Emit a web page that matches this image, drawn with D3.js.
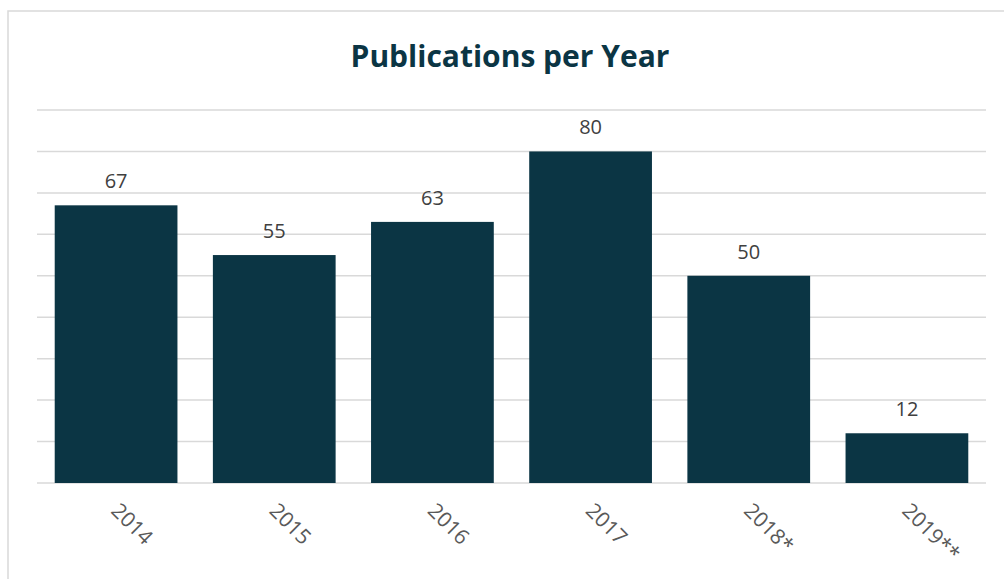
<!DOCTYPE html>
<html><head><meta charset="utf-8">
<script src="https://cdn.jsdelivr.net/npm/d3@7"></script>
<style>body{margin:0;background:#fff}svg{display:block}</style>
</head><body>
<svg id="c" width="1004" height="579"></svg>
<script>
const categories = ["2014","2015","2016","2017","2018*","2019**"];
const values = [67,55,63,80,50,12];
const yTicks = [0,10,20,30,40,50,60,70,80,90];
const title = "Publications per Year";

const svg = d3.select("#c");
const W = 1004, H = 579;
const m = {left:37, right:18, top:110, bottom:96};
const x = d3.scaleBand().domain(categories).range([m.left, W - m.right]).paddingInner(0.224).paddingOuter(0.112);
const y = d3.scaleLinear().domain([0,90]).range([H - m.bottom, m.top]);

// frame
svg.append("rect").attr("x",8).attr("y",11).attr("width",1010).attr("height",600)
  .attr("fill","none").attr("stroke","#d9d9d9").attr("stroke-width",1.5);

// gridlines
svg.append("g").selectAll("line").data(yTicks).join("line")
  .attr("x1",m.left).attr("x2",W - m.right)
  .attr("y1",d=>y(d)).attr("y2",d=>y(d))
  .attr("stroke","#d9d9d9").attr("stroke-width",1.5);

// bars
svg.append("g").selectAll("rect").data(values).join("rect")
  .attr("x",(d,i)=>x(categories[i])).attr("width",x.bandwidth())
  .attr("y",d=>y(d)).attr("height",d=>y(0)-y(d))
  .attr("fill","#0b3544");

// value labels
svg.append("g").selectAll("text").data(values).join("text")
  .attr("x",(d,i)=>x(categories[i])+x.bandwidth()/2)
  .attr("y",d=>y(d)-17)
  .attr("text-anchor","middle")
  .attr("font-family","Open Sans, sans-serif").attr("font-size",20)
  .attr("fill","#404040").text(d=>d);

// x axis labels
const xa = svg.append("g").attr("transform",`translate(0,${y(0)})`)
  .call(d3.axisBottom(x).tickSize(0).tickPadding(0));
xa.select(".domain").remove();
xa.selectAll("text")
  .attr("font-family","Open Sans, sans-serif").attr("font-size",21).attr("fill","#595959")
  .attr("text-anchor","start").attr("dy",null).attr("y",0)
  .attr("transform","translate(-6,29) rotate(45)");

// title
svg.append("text").attr("x",510).attr("y",67).attr("text-anchor","middle")
  .attr("font-family","Open Sans, sans-serif").attr("font-weight","bold").attr("font-size",30)
  .attr("fill","#0b3544").text(title);
</script>
</body></html>
